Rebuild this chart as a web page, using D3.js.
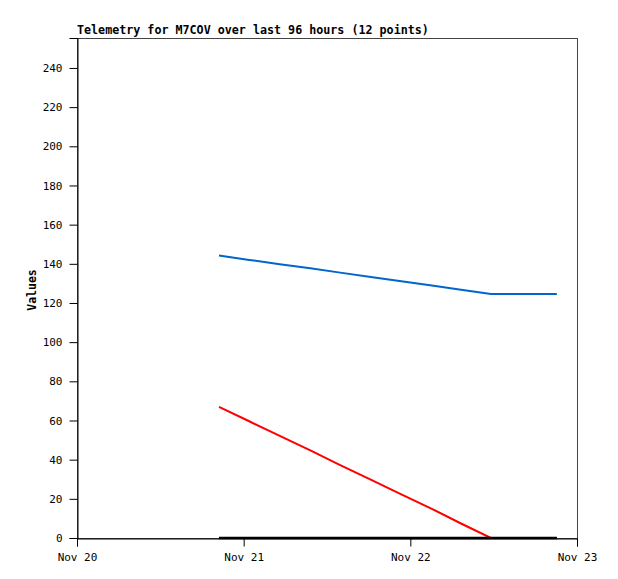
<!DOCTYPE html>
<html>
<head>
<meta charset="utf-8">
<script src="https://cdn.jsdelivr.net/npm/d3@7"></script>
<style>
body { margin: 0; background: #fff; }
svg text { font-family: "DejaVu Sans Mono", monospace; }
</style>
</head>
<body>
<div id="chart"></div>
<script>
// hours since Nov 20 00:00 for each telemetry sample
var hours = [20.45, 24.8, 29.2, 33.6, 37.9, 42.3, 46.7, 51.1, 55.3, 59.6, 64.3, 69.1]
var blueVals = [144.2, 142.0, 139.8, 137.7, 135.5, 133.3, 131.1, 128.9, 126.8, 124.6, 124.6, 124.6]
var redVals = [67, 59.6, 52.1, 44.7, 37.2, 29.8, 22.3, 14.9, 7.4, 0, 0, 0]
var blackVals = [0, 0, 0, 0, 0, 0, 0, 0, 0, 0, 0, 0]
var yTicks = [0, 20, 40, 60, 80, 100, 120, 140, 160, 180, 200, 220, 240]
var xTickLabels = ["Nov 20", "Nov 21", "Nov 22", "Nov 23"]

var width = 618, height = 579
var mLeft = 77, mTop = 38, plotW = 500, plotH = 500

var svg = d3.select("#chart").append("svg")
  .attr("width", width)
  .attr("height", height)

var start = new Date(2020, 10, 20)
var toDate = function(h) { return new Date(start.getTime() + h * 3600000) }

var x = d3.scaleTime()
  .domain([start, toDate(72)])
  .range([mLeft, mLeft + plotW])
var y = d3.scaleLinear()
  .domain([0, 255.3])
  .range([mTop + plotH, mTop])

// frame
svg.append("rect")
  .attr("x", mLeft + 0.5).attr("y", mTop + 0.5)
  .attr("width", plotW).attr("height", plotH)
  .attr("fill", "none").attr("stroke", "#444")

// y axis
var yAxis = svg.append("g")
  .attr("transform", "translate(" + (mLeft + 0.5) + ",0)")
  .call(d3.axisLeft(y).tickValues(yTicks).tickSize(8).tickPadding(7))
yAxis.select(".domain").attr("stroke", "#000")
yAxis.selectAll("line").attr("stroke", "#000")
yAxis.selectAll("text").attr("font-size", 11).attr("fill", "#000")
  .attr("font-family", "DejaVu Sans Mono, monospace")

// x axis
var xAxis = svg.append("g")
  .attr("transform", "translate(0," + (mTop + plotH + 0.5) + ")")
  .call(d3.axisBottom(x)
    .tickValues([0, 24, 48, 72].map(toDate))
    .tickFormat(function(d, i) { return xTickLabels[i] })
    .tickSize(8).tickPadding(7))
xAxis.select(".domain").attr("stroke", "#000")
xAxis.selectAll("line").attr("stroke", "#000")
xAxis.selectAll("text").attr("font-size", 11).attr("fill", "#000")
  .attr("font-family", "DejaVu Sans Mono, monospace")

// series (black drawn last, it covers the red where both sit on 0)
var line = d3.line()
  .x(function(d) { return x(toDate(d[0])) })
  .y(function(d) { return y(d[1]) })

var series = [
  { vals: blueVals, color: "#0066cc", w: 2 },
  { vals: redVals, color: "#ff0000", w: 2 },
  { vals: blackVals, color: "#000000", w: 2.5 }
]
series.forEach(function(s) {
  svg.append("path")
    .datum(hours.map(function(h, i) { return [h, s.vals[i]] }))
    .attr("d", line)
    .attr("fill", "none")
    .attr("stroke", s.color)
    .attr("stroke-width", s.w)
})

// title
svg.append("text")
  .attr("x", mLeft).attr("y", mTop - 4)
  .attr("font-size", 11.7).attr("font-weight", "bold")
  .text("Telemetry for M7COV over last 96 hours (12 points)")

// y label
svg.append("text")
  .attr("transform", "translate(36," + (mTop + plotH / 2 + 2) + ") rotate(-90)")
  .attr("text-anchor", "middle")
  .attr("font-size", 11.5).attr("font-weight", "bold")
  .text("Values")
</script>
</body>
</html>
